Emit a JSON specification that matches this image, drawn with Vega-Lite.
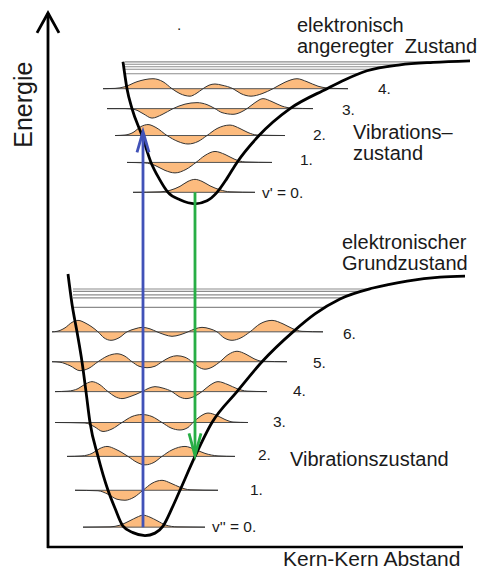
{
"$schema": "https://vega.github.io/schema/vega-lite/v6.json",
"width": 481, "height": 570,
"autosize": {"type": "fit", "contains": "padding"},
"padding": 0,
"background": "white",
"config": {"view": {"stroke": null}},
"datasets": {
"hl": [
{"k":"d","x":125,"x2":445,"e":508},{"k":"d","x":125,"x2":407,"e":505.5},{"k":"d","x":125,"x2":389,"e":503},{"k":"d","x":125,"x2":375,"e":500.5},{"k":"d","x":125,"x2":360,"e":496},
{"k":"d","x":73,"x2":370,"e":280},{"k":"d","x":73,"x2":362,"e":277.5},{"k":"d","x":73,"x2":352,"e":274},{"k":"d","x":73,"x2":343,"e":271},{"k":"d","x":73,"x2":326,"e":261.5},
{"k":"l","x":133,"x2":255,"e":377},{"k":"l","x":127,"x2":272,"e":407},{"k":"l","x":115,"x2":285,"e":434},{"k":"l","x":107,"x2":313,"e":461},{"k":"l","x":103,"x2":348,"e":481},
{"k":"l","x":83,"x2":205,"e":41},{"k":"l","x":75,"x2":218,"e":78},{"k":"l","x":67,"x2":235,"e":112},{"k":"l","x":55,"x2":248,"e":146},{"k":"l","x":55,"x2":267,"e":177},{"k":"l","x":52,"x2":287,"e":207},{"k":"l","x":52,"x2":323,"e":237},
{"k":"a","x":47,"x2":463,"e":21}
],
"vr": [
{"id":"ax","x":48,"e":20,"e2":557},{"id":"bl","x":143,"e":41,"e2":435},{"id":"gr","x":195,"e":377,"e2":116}
],
"ch": [
{"id":"ax","x":37,"e":537},{"id":"ax","x":48,"e":557},{"id":"ax","x":59,"e":537},
{"id":"bl","x":137,"e":417},{"id":"bl","x":143,"e":438},{"id":"bl","x":149,"e":417},
{"id":"gr","x":189,"e":135},{"id":"gr","x":195,"e":113},{"id":"gr","x":201,"e":135}
],
"pc": [
{"c":"u","x":123,"e":508},{"c":"u","x":127,"e":481},{"c":"u","x":132,"e":461},{"c":"u","x":142,"e":434},{"c":"u","x":151,"e":407},{"c":"u","x":159,"e":391},{"c":"u","x":168,"e":377},{"c":"u","x":180,"e":369.5},{"c":"u","x":195,"e":365.5},{"c":"u","x":207,"e":368.5},{"c":"u","x":217,"e":377},{"c":"u","x":227,"e":391},{"c":"u","x":237,"e":407},{"c":"u","x":259,"e":434},{"c":"u","x":290,"e":461},{"c":"u","x":327,"e":481},{"c":"u","x":345,"e":490},{"c":"u","x":367,"e":499},{"c":"u","x":400,"e":505},{"c":"u","x":433,"e":507.5},{"c":"u","x":470,"e":509},
{"c":"g","x":68,"e":295},{"c":"g","x":72,"e":265},{"c":"g","x":77,"e":237},{"c":"g","x":82,"e":207},{"c":"g","x":86,"e":177},{"c":"g","x":90,"e":146},{"c":"g","x":98,"e":112},{"c":"g","x":108,"e":78},{"c":"g","x":115,"e":60},{"c":"g","x":123,"e":42},{"c":"g","x":133,"e":35.5},{"c":"g","x":145,"e":32.5},{"c":"g","x":155,"e":35},{"c":"g","x":163,"e":42},{"c":"g","x":172,"e":60},{"c":"g","x":180,"e":78},{"c":"g","x":195,"e":112},{"c":"g","x":212,"e":146},{"c":"g","x":237,"e":177},{"c":"g","x":262,"e":207},{"c":"g","x":293,"e":237},{"c":"g","x":315,"e":255},{"c":"g","x":340,"e":270},{"c":"g","x":373,"e":281},{"c":"g","x":407,"e":288},{"c":"g","x":440,"e":292},{"c":"g","x":465,"e":293}
],
"wf": [
{"s":"u0","x":133,"e":377,"b":377},{"s":"u0","x":160,"e":377.5,"b":377},{"s":"u0","x":170,"e":379,"b":377},{"s":"u0","x":180,"e":383,"b":377},{"s":"u0","x":188,"e":388,"b":377},{"s":"u0","x":195,"e":390,"b":377},{"s":"u0","x":202,"e":388,"b":377},{"s":"u0","x":210,"e":383.5,"b":377},{"s":"u0","x":220,"e":379.5,"b":377},{"s":"u0","x":230,"e":377.5,"b":377},{"s":"u0","x":255,"e":377,"b":377},
{"s":"u1","x":127,"e":407,"b":407},{"s":"u1","x":145,"e":406.5,"b":407},{"s":"u1","x":155,"e":404,"b":407},{"s":"u1","x":165,"e":399,"b":407},{"s":"u1","x":175,"e":396.5,"b":407},{"s":"u1","x":186,"e":400,"b":407},{"s":"u1","x":196,"e":407,"b":407},{"s":"u1","x":205,"e":414,"b":407},{"s":"u1","x":215,"e":418,"b":407},{"s":"u1","x":225,"e":415,"b":407},{"s":"u1","x":235,"e":410,"b":407},{"s":"u1","x":245,"e":407.5,"b":407},{"s":"u1","x":272,"e":407,"b":407},
{"s":"u2","x":115,"e":434,"b":434},{"s":"u2","x":125,"e":434.5,"b":434},{"s":"u2","x":133,"e":437,"b":434},{"s":"u2","x":141,"e":443,"b":434},{"s":"u2","x":148,"e":445,"b":434},{"s":"u2","x":156,"e":442,"b":434},{"s":"u2","x":167,"e":434,"b":434},{"s":"u2","x":178,"e":428,"b":434},{"s":"u2","x":188,"e":425.5,"b":434},{"s":"u2","x":198,"e":428,"b":434},{"s":"u2","x":207,"e":434,"b":434},{"s":"u2","x":217,"e":441,"b":434},{"s":"u2","x":230,"e":444.5,"b":434},{"s":"u2","x":240,"e":441,"b":434},{"s":"u2","x":248,"e":437,"b":434},{"s":"u2","x":257,"e":434.5,"b":434},{"s":"u2","x":285,"e":434,"b":434},
{"s":"u3","x":107,"e":461,"b":461},{"s":"u3","x":125,"e":461,"b":461},{"s":"u3","x":135,"e":460,"b":461},{"s":"u3","x":143,"e":456,"b":461},{"s":"u3","x":152,"e":451.5,"b":461},{"s":"u3","x":162,"e":455,"b":461},{"s":"u3","x":173,"e":461,"b":461},{"s":"u3","x":185,"e":465.5,"b":461},{"s":"u3","x":197,"e":467,"b":461},{"s":"u3","x":207,"e":465,"b":461},{"s":"u3","x":215,"e":461,"b":461},{"s":"u3","x":222,"e":457,"b":461},{"s":"u3","x":233,"e":455.3,"b":461},{"s":"u3","x":241,"e":457.5,"b":461},{"s":"u3","x":247,"e":461,"b":461},{"s":"u3","x":255,"e":467,"b":461},{"s":"u3","x":263,"e":471,"b":461},{"s":"u3","x":272,"e":468,"b":461},{"s":"u3","x":282,"e":463.5,"b":461},{"s":"u3","x":292,"e":461.5,"b":461},{"s":"u3","x":313,"e":461,"b":461},
{"s":"u4","x":103,"e":481,"b":481},{"s":"u4","x":115,"e":481.3,"b":481},{"s":"u4","x":125,"e":483,"b":481},{"s":"u4","x":137,"e":488,"b":481},{"s":"u4","x":153,"e":491,"b":481},{"s":"u4","x":163,"e":488,"b":481},{"s":"u4","x":172,"e":481,"b":481},{"s":"u4","x":180,"e":476,"b":481},{"s":"u4","x":190,"e":473.5,"b":481},{"s":"u4","x":196,"e":476,"b":481},{"s":"u4","x":203,"e":481,"b":481},{"s":"u4","x":209,"e":484.5,"b":481},{"s":"u4","x":215,"e":485.7,"b":481},{"s":"u4","x":222,"e":484.5,"b":481},{"s":"u4","x":233,"e":481,"b":481},{"s":"u4","x":241,"e":476,"b":481},{"s":"u4","x":251,"e":473.5,"b":481},{"s":"u4","x":262,"e":476,"b":481},{"s":"u4","x":273,"e":481,"b":481},{"s":"u4","x":285,"e":487.5,"b":481},{"s":"u4","x":297,"e":491,"b":481},{"s":"u4","x":307,"e":488,"b":481},{"s":"u4","x":318,"e":483.5,"b":481},{"s":"u4","x":330,"e":481.5,"b":481},{"s":"u4","x":348,"e":481,"b":481},
{"s":"g0","x":83,"e":41,"b":41},{"s":"g0","x":110,"e":41.3,"b":41},{"s":"g0","x":120,"e":43,"b":41},{"s":"g0","x":130,"e":47.5,"b":41},{"s":"g0","x":137,"e":51,"b":41},{"s":"g0","x":143,"e":53,"b":41},{"s":"g0","x":150,"e":51,"b":41},{"s":"g0","x":157,"e":47.5,"b":41},{"s":"g0","x":166,"e":43,"b":41},{"s":"g0","x":177,"e":41.3,"b":41},{"s":"g0","x":205,"e":41,"b":41},
{"s":"g1","x":75,"e":78,"b":78},{"s":"g1","x":98,"e":77.5,"b":78},{"s":"g1","x":108,"e":74,"b":78},{"s":"g1","x":117,"e":69,"b":78},{"s":"g1","x":125,"e":68,"b":78},{"s":"g1","x":134,"e":71,"b":78},{"s":"g1","x":143,"e":78,"b":78},{"s":"g1","x":152,"e":85,"b":78},{"s":"g1","x":162,"e":88,"b":78},{"s":"g1","x":171,"e":85,"b":78},{"s":"g1","x":180,"e":81,"b":78},{"s":"g1","x":190,"e":78.5,"b":78},{"s":"g1","x":218,"e":78,"b":78},
{"s":"g2","x":67,"e":112,"b":112},{"s":"g2","x":82,"e":112.5,"b":112},{"s":"g2","x":92,"e":115,"b":112},{"s":"g2","x":100,"e":120,"b":112},{"s":"g2","x":107,"e":122,"b":112},{"s":"g2","x":116,"e":119,"b":112},{"s":"g2","x":128,"e":112,"b":112},{"s":"g2","x":137,"e":106,"b":112},{"s":"g2","x":145,"e":103.5,"b":112},{"s":"g2","x":154,"e":106,"b":112},{"s":"g2","x":162,"e":112,"b":112},{"s":"g2","x":172,"e":118.5,"b":112},{"s":"g2","x":185,"e":122,"b":112},{"s":"g2","x":195,"e":119,"b":112},{"s":"g2","x":205,"e":115,"b":112},{"s":"g2","x":218,"e":112.5,"b":112},{"s":"g2","x":235,"e":112,"b":112},
{"s":"g3","x":55,"e":146,"b":146},{"s":"g3","x":85,"e":145.5,"b":146},{"s":"g3","x":94,"e":142,"b":146},{"s":"g3","x":103,"e":137,"b":146},{"s":"g3","x":112,"e":139.5,"b":146},{"s":"g3","x":122,"e":146,"b":146},{"s":"g3","x":132,"e":152,"b":146},{"s":"g3","x":142,"e":154,"b":146},{"s":"g3","x":152,"e":152,"b":146},{"s":"g3","x":162,"e":146,"b":146},{"s":"g3","x":171,"e":140.5,"b":146},{"s":"g3","x":180,"e":138.5,"b":146},{"s":"g3","x":188,"e":141,"b":146},{"s":"g3","x":193,"e":146,"b":146},{"s":"g3","x":200,"e":152,"b":146},{"s":"g3","x":208,"e":155.5,"b":146},{"s":"g3","x":217,"e":153,"b":146},{"s":"g3","x":225,"e":149,"b":146},{"s":"g3","x":233,"e":146.5,"b":146},{"s":"g3","x":248,"e":146,"b":146},
{"s":"g4","x":55,"e":177,"b":177},{"s":"g4","x":68,"e":177.5,"b":177},{"s":"g4","x":78,"e":180,"b":177},{"s":"g4","x":86,"e":185,"b":177},{"s":"g4","x":92,"e":187,"b":177},{"s":"g4","x":99,"e":184.5,"b":177},{"s":"g4","x":108,"e":177,"b":177},{"s":"g4","x":115,"e":172,"b":177},{"s":"g4","x":122,"e":170,"b":177},{"s":"g4","x":130,"e":172,"b":177},{"s":"g4","x":142,"e":177,"b":177},{"s":"g4","x":149,"e":180.5,"b":177},{"s":"g4","x":155,"e":182,"b":177},{"s":"g4","x":163,"e":180.5,"b":177},{"s":"g4","x":172,"e":177,"b":177},{"s":"g4","x":179,"e":172,"b":177},{"s":"g4","x":186,"e":170,"b":177},{"s":"g4","x":194,"e":172,"b":177},{"s":"g4","x":202,"e":177,"b":177},{"s":"g4","x":210,"e":183.5,"b":177},{"s":"g4","x":218,"e":187,"b":177},{"s":"g4","x":228,"e":184,"b":177},{"s":"g4","x":237,"e":180,"b":177},{"s":"g4","x":247,"e":177.5,"b":177},{"s":"g4","x":267,"e":177,"b":177},
{"s":"g5","x":52,"e":207,"b":207},{"s":"g5","x":60,"e":206.5,"b":207},{"s":"g5","x":70,"e":203,"b":207},{"s":"g5","x":80,"e":198,"b":207},{"s":"g5","x":89,"e":200.5,"b":207},{"s":"g5","x":98,"e":207,"b":207},{"s":"g5","x":107,"e":212.5,"b":207},{"s":"g5","x":117,"e":215,"b":207},{"s":"g5","x":125,"e":212.5,"b":207},{"s":"g5","x":132,"e":207,"b":207},{"s":"g5","x":139,"e":202.5,"b":207},{"s":"g5","x":147,"e":201,"b":207},{"s":"g5","x":155,"e":202.5,"b":207},{"s":"g5","x":162,"e":207,"b":207},{"s":"g5","x":170,"e":211.5,"b":207},{"s":"g5","x":177,"e":213,"b":207},{"s":"g5","x":185,"e":211.5,"b":207},{"s":"g5","x":192,"e":207,"b":207},{"s":"g5","x":198,"e":202,"b":207},{"s":"g5","x":205,"e":199.5,"b":207},{"s":"g5","x":213,"e":202,"b":207},{"s":"g5","x":220,"e":207,"b":207},{"s":"g5","x":228,"e":214,"b":207},{"s":"g5","x":237,"e":217.5,"b":207},{"s":"g5","x":246,"e":214.5,"b":207},{"s":"g5","x":254,"e":210,"b":207},{"s":"g5","x":262,"e":207.5,"b":207},{"s":"g5","x":287,"e":207,"b":207},
{"s":"g6","x":52,"e":237,"b":237},{"s":"g6","x":57,"e":237.5,"b":237},{"s":"g6","x":65,"e":241,"b":237},{"s":"g6","x":72,"e":246.5,"b":237},{"s":"g6","x":78,"e":248.5,"b":237},{"s":"g6","x":86,"e":245.5,"b":237},{"s":"g6","x":98,"e":237,"b":237},{"s":"g6","x":104,"e":231,"b":237},{"s":"g6","x":111,"e":228.5,"b":237},{"s":"g6","x":119,"e":231,"b":237},{"s":"g6","x":127,"e":237,"b":237},{"s":"g6","x":135,"e":240,"b":237},{"s":"g6","x":142,"e":241.5,"b":237},{"s":"g6","x":150,"e":240,"b":237},{"s":"g6","x":157,"e":237,"b":237},{"s":"g6","x":165,"e":234,"b":237},{"s":"g6","x":172,"e":232.5,"b":237},{"s":"g6","x":180,"e":234,"b":237},{"s":"g6","x":188,"e":237,"b":237},{"s":"g6","x":195,"e":240,"b":237},{"s":"g6","x":202,"e":241.5,"b":237},{"s":"g6","x":210,"e":240,"b":237},{"s":"g6","x":217,"e":237,"b":237},{"s":"g6","x":224,"e":231,"b":237},{"s":"g6","x":232,"e":228.5,"b":237},{"s":"g6","x":241,"e":231,"b":237},{"s":"g6","x":250,"e":237,"b":237},{"s":"g6","x":260,"e":245,"b":237},{"s":"g6","x":272,"e":248.5,"b":237},{"s":"g6","x":283,"e":245,"b":237},{"s":"g6","x":293,"e":240,"b":237},{"s":"g6","x":302,"e":237.5,"b":237},{"s":"g6","x":323,"e":237,"b":237}
],
"tx": [
{"k":"big21","t":"elektronisch\nangeregter\u00a0 Zustand","x":297,"e":538},
{"k":"big21","t":"Vibrations–\nzustand","x":353,"e":430.5},
{"k":"big21","t":"elektronischer\nGrundzustand","x":342,"e":320},
{"k":"big21","t":"Vibrationszustand","x":290,"e":102},
{"k":"ax","t":"Kern-Kern Abstand","x":283,"e":2},
{"k":"rot","t":"Energie","x":32,"e":465},
{"k":"num","t":".","x":177,"e":540},
{"k":"num","t":"4.","x":378,"e":476},
{"k":"num","t":"3.","x":342,"e":455},
{"k":"num","t":"2.","x":313,"e":430},
{"k":"num","t":"1.","x":300,"e":404},
{"k":"num","t":"v' = 0.","x":262,"e":371},
{"k":"num","t":"6.","x":343,"e":230},
{"k":"num","t":"5.","x":313,"e":201},
{"k":"num","t":"4.","x":293,"e":173},
{"k":"num","t":"3.","x":273,"e":141},
{"k":"num","t":"2.","x":258,"e":108},
{"k":"num","t":"1.","x":250,"e":73},
{"k":"num","t":"v'' = 0.","x":212,"e":36}
]
},
"encoding": {
"x": {"field": "x", "type": "quantitative", "scale": {"domain": [0, 481], "nice": false, "zero": false}, "axis": null},
"y": {"field": "e", "type": "quantitative", "scale": {"domain": [0, 570], "nice": false, "zero": false}, "axis": null}
},
"layer": [
{"data": {"name": "hl"}, "transform": [{"filter": "datum.k === 'd'"}], "mark": {"type": "rule", "stroke": "#8c8c8c", "strokeWidth": 1.2}, "encoding": {"x2": {"field": "x2"}}},
{"data": {"name": "wf"}, "mark": {"type": "area", "fill": "#FCBB7E", "interpolate": "monotone"}, "encoding": {"y2": {"field": "b"}, "detail": {"field": "s"}}},
{"data": {"name": "hl"}, "transform": [{"filter": "datum.k === 'l'"}], "mark": {"type": "rule", "stroke": "#555555", "strokeWidth": 1}, "encoding": {"x2": {"field": "x2"}}},
{"data": {"name": "wf"}, "mark": {"type": "line", "stroke": "#333333", "strokeWidth": 1, "interpolate": "monotone"}, "encoding": {"detail": {"field": "s"}}},
{"data": {"name": "pc"}, "mark": {"type": "line", "stroke": "#000000", "strokeWidth": 2.8, "interpolate": "monotone"}, "encoding": {"detail": {"field": "c"}}},
{"data": {"name": "hl"}, "transform": [{"filter": "datum.k === 'a'"}], "mark": {"type": "rule", "stroke": "#000000", "strokeWidth": 2.5}, "encoding": {"x2": {"field": "x2"}}},
{"data": {"name": "vr"}, "mark": {"type": "rule", "strokeWidth": 2.8}, "encoding": {"y2": {"field": "e2"}, "color": {"field": "id", "type": "nominal", "scale": {"domain": ["ax", "bl", "gr"], "range": ["#000000", "#4152B8", "#27AE45"]}, "legend": null}}},
{"data": {"name": "ch"}, "mark": {"type": "line", "strokeWidth": 2.8}, "encoding": {"color": {"field": "id", "type": "nominal", "scale": {"domain": ["ax", "bl", "gr"], "range": ["#000000", "#4152B8", "#27AE45"]}, "legend": null}}},
{"data": {"name": "tx"}, "transform": [{"filter": "datum.k === 'big21'"}], "mark": {"type": "text", "align": "left", "baseline": "alphabetic", "lineBreak": "\n", "lineHeight": 21, "font": "Liberation Sans", "fontSize": 20, "fill": "#1a1a1a"}, "encoding": {"text": {"field": "t"}}},
{"data": {"name": "tx"}, "transform": [{"filter": "datum.k === 'num'"}], "mark": {"type": "text", "align": "left", "baseline": "alphabetic", "font": "Liberation Sans", "fontSize": 15.5, "fill": "#1a1a1a"}, "encoding": {"text": {"field": "t"}}},
{"data": {"name": "tx"}, "transform": [{"filter": "datum.k === 'ax'"}], "mark": {"type": "text", "align": "left", "baseline": "alphabetic", "font": "Liberation Sans", "fontSize": 21, "fill": "#1a1a1a"}, "encoding": {"text": {"field": "t"}}},
{"data": {"name": "tx"}, "transform": [{"filter": "datum.k === 'rot'"}], "mark": {"type": "text", "align": "center", "baseline": "alphabetic", "angle": 270, "font": "Liberation Sans", "fontSize": 25, "fill": "#1a1a1a"}, "encoding": {"text": {"field": "t"}}}
]
}
